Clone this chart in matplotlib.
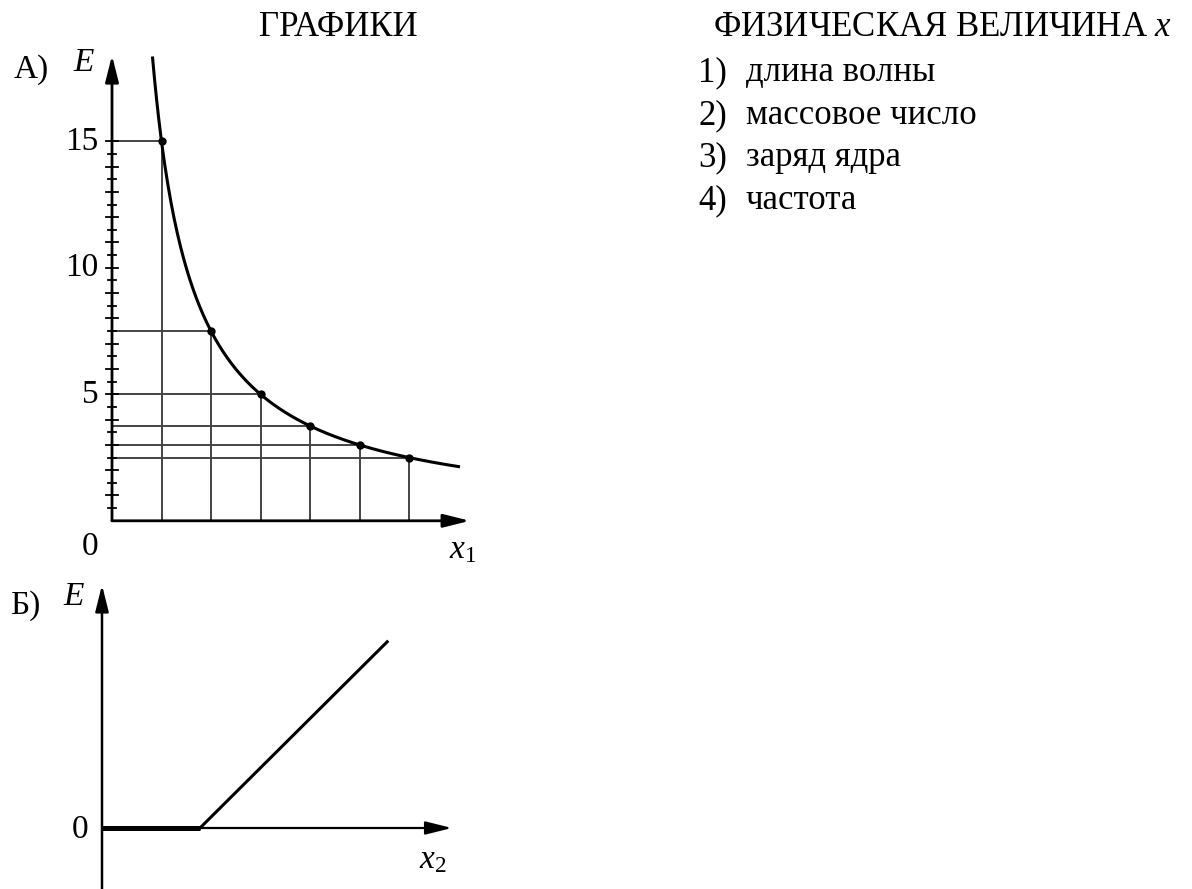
import numpy as np
import matplotlib
matplotlib.use("Agg")
import matplotlib.pyplot as plt

plt.rcParams['font.family'] = ['Liberation Serif', 'DejaVu Serif']
plt.rcParams['mathtext.fontset'] = 'custom'
plt.rcParams['mathtext.rm'] = 'Liberation Serif'
plt.rcParams['mathtext.it'] = 'Liberation Serif:italic'

# graph A: E against x1, marked points on the hyperbola
a_x = [1, 2, 3, 4, 5, 6]
a_E = [15, 7.5, 5, 3.75, 3, 2.5]
a_curve_start = 0.82
a_curve_end = 7.0
a_tick_labels = [0, 5, 10, 15]

# graph B: E against x2, zero up to threshold then linear rise
b_x = [0, 1, 2.91]
b_E = [0, 0, 1.9]

answers = ['длина волны', 'массовое число', 'заряд ядра', 'частота']

W, H = 1192, 889
fig = plt.figure(figsize=(W / 100, H / 100), dpi=100)
FS = 25     # headings and list
FN = 24     # axis numbers and labels


def axes_at(x0, y0, ux, uy, xlim, ylim):
    # x0, y0 - pixel position of the data origin (from top-left), ux, uy - pixels per unit
    left = x0 + xlim[0] * ux
    right = x0 + xlim[1] * ux
    top = y0 - ylim[1] * uy
    bottom = y0 - ylim[0] * uy
    ax = fig.add_axes([left / W, 1 - bottom / H, (right - left) / W, (bottom - top) / H])
    ax.set_xlim(xlim)
    ax.set_ylim(ylim)
    ax.axis('off')
    return ax


def arrow(ax, start, tip, lw):
    ax.annotate('', xy=tip, xytext=start,
                arrowprops=dict(arrowstyle='-|>,head_length=0.8,head_width=0.2',
                                mutation_scale=20, lw=lw, color='black',
                                shrinkA=0, shrinkB=0), annotation_clip=False)


# ---- graph A ----
axA = axes_at(112, 520.8, 49.5, 25.3, (-2.0, 8.0), (-2.0, 19.5))
grid_col = '#444444'
for x, e in zip(a_x, a_E):
    axA.plot([0, x], [e, e], color=grid_col, lw=1.4, zorder=1)
    axA.plot([x, x], [0, e], color=grid_col, lw=1.4, zorder=1)

k = a_x[0] * a_E[0]
xs = np.linspace(a_curve_start, a_curve_end, 300)
axA.plot(xs, k / xs, color='black', lw=2.2, zorder=3)
axA.plot(a_x, a_E, 'o', color='black', ms=5, zorder=4)

# minor ticks every 0.5 along E, longer at whole numbers
for i in range(1, 31):
    e = i * 0.5
    half = 0.12 if i % 2 == 0 else 0.08
    axA.plot([-half, half], [e, e], color='black', lw=1.3, zorder=2)

arrow(axA, (0, 0), (0, 18.4), 2.0)
arrow(axA, (0, 0), (7.23, 0), 2.0)

for v in a_tick_labels[1:]:
    axA.text(-0.27, v, str(v), ha='right', va='center', fontsize=FN)
axA.text(-0.45, -1.02, '0', ha='center', va='center', fontsize=FN)
axA.text(7.08, -1.15, '$x_1$', ha='center', va='center', fontsize=FN)
axA.text(-0.58, 18.1, 'E', ha='center', va='center', fontsize=FN, style='italic')
axA.text(-1.63, 17.85, 'А)', ha='center', va='center', fontsize=FN)

# ---- graph B ----
axB = axes_at(102, 828, 98, 98, (-1.0, 4.5), (-0.7, 2.8))
axB.plot(b_x[:2], b_E[:2], color='black', lw=3.6, solid_capstyle='butt', zorder=3)
axB.plot(b_x[1:], b_E[1:], color='black', lw=2.2, zorder=3)
arrow(axB, (0, -0.7), (0, 2.48), 1.8)
arrow(axB, (0, 0), (3.57, 0), 1.6)
axB.text(-0.22, -0.02, '0', ha='center', va='center', fontsize=FN)
axB.text(3.38, -0.33, '$x_2$', ha='center', va='center', fontsize=FN)
axB.text(-0.29, 2.36, 'E', ha='center', va='center', fontsize=FN, style='italic')
axB.text(-0.78, 2.27, 'Б)', ha='center', va='center', fontsize=FN)

# ---- headings and answer list ----
fig.text(338 / W, 1 - 27 / H, 'ГРАФИКИ', ha='center', va='center', fontsize=FS)
fig.text(942 / W, 1 - 27 / H, 'ФИЗИЧЕСКАЯ ВЕЛИЧИНА $x$', ha='center', va='center', fontsize=FS)
for i, name in enumerate(answers):
    y = 1 - (73 + 42.5 * i) / H
    fig.text(698 / W, y, f'{i + 1})', ha='left', va='center', fontsize=FS)
    fig.text(746 / W, y, name, ha='left', va='center', fontsize=FS)

fig.savefig('out.png', dpi=100, facecolor='white')
